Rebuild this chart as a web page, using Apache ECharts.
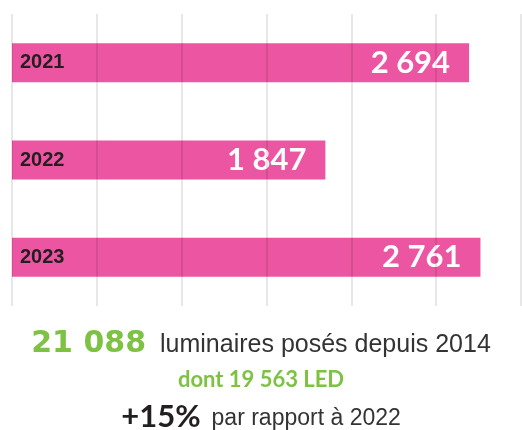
<!DOCTYPE html>
<html>
<head>
<meta charset="utf-8">
<script src="https://cdn.jsdelivr.net/npm/echarts@6/dist/echarts.min.js"></script>
<style>
  html, body { margin: 0; padding: 0; background: #fff; }
  #chart { width: 522px; height: 430px; }
</style>
</head>
<body>
<div id="chart"></div>
<script>
const years = ['2021', '2022', '2023'];
const installed = [2694, 1847, 2761];
const axisTicks = [0, 500, 1000, 1500, 2000, 2500, 3000];

const totalCount = '21 088';
const totalText = 'luminaires posés depuis 2014';
const ledText = 'dont 19 563 LED';
const growth = '+15%';
const growthText = 'par rapport à 2022';

const pink = '#ec55a1';
const green = '#7dc243';
const dark = '#231f20';

// 2694 -> "2 694"
function fmt(v) {
  return String(v).replace(/\B(?=(\d{3})+(?!\d))/g, ' ');
}

const chart = echarts.init(document.getElementById('chart'), null, { renderer: 'canvas' });

var option = {
  animation: false,
  backgroundColor: '#ffffff',
  grid: {
    left: 12,
    right: 1,
    top: 14,
    bottom: 124
  },
  xAxis: {
    type: 'value',
    z: 3,
    min: axisTicks[0],
    max: axisTicks[axisTicks.length - 1],
    interval: axisTicks[1] - axisTicks[0],
    axisLine: { show: false },
    axisTick: { show: false },
    axisLabel: { show: false },
    splitLine: {
      show: true,
      lineStyle: { color: 'rgba(0,0,0,0.13)', width: 1.5 }
    }
  },
  yAxis: {
    type: 'category',
    inverse: true,
    z: 4,
    data: years,
    axisLine: { show: false },
    axisTick: { show: false },
    axisLabel: {
      inside: true,
      margin: 8,
      color: dark,
      fontFamily: 'Liberation Sans',
      fontWeight: 'bold',
      fontSize: 20,
      padding: [7, 0, 0, 0]
    }
  },
  series: [{
    type: 'bar',
    data: installed,
    barWidth: 39,
    itemStyle: { color: pink },
    label: {
      show: true,
      position: 'insideRight',
      distance: 19,
      color: '#ffffff',
      fontFamily: 'Lato',
      fontWeight: 'bold',
      fontSize: 31,
      formatter: p => fmt(p.value)
    }
  }],
  graphic: [
    {
      type: 'text',
      left: 'center',
      top: 329,
      style: {
        text: '{a|' + totalCount + '}{b|' + totalText + '}',
        rich: {
          a: { fontFamily: 'DejaVu Sans', fontWeight: 'bold', fontSize: 30, fill: green, verticalAlign: 'bottom' },
          b: { fontFamily: 'Liberation Sans', fontSize: 25, fill: '#333333', verticalAlign: 'bottom', padding: [0, 0, 1, 14] }
        }
      }
    },
    {
      type: 'text',
      left: 'center',
      top: 369,
      style: {
        text: ledText,
        fontFamily: 'Lato',
        fontWeight: 'bold',
        fontSize: 22,
        fill: green
      }
    },
    {
      type: 'text',
      left: 'center',
      top: 401,
      style: {
        text: '{a|' + growth + '}{b|' + growthText + '}',
        rich: {
          a: { fontFamily: 'Lato', fontWeight: 'bold', fontSize: 31, fill: dark, verticalAlign: 'bottom' },
          b: { fontFamily: 'Liberation Sans', fontSize: 23, fill: '#333333', verticalAlign: 'bottom', padding: [0, 0, 2, 11] }
        }
      }
    }
  ]
};

chart.setOption(option);
</script>
</body>
</html>
